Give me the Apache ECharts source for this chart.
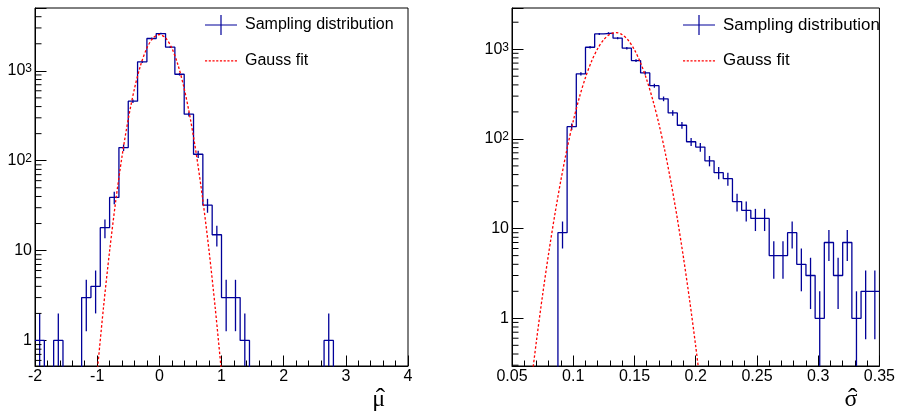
<!DOCTYPE html>
<html>
<head>
<meta charset="utf-8">
<title>Sampling distributions</title>
<script src="https://cdn.jsdelivr.net/npm/echarts@6/dist/echarts.min.js"></script>
<style>
  html, body { margin: 0; padding: 0; background: #fff; }
  #chart { width: 898px; height: 416px; }
</style>
</head>
<body>
<div id="chart"></div>
<script>
// left pad: mu-hat, 40 bins of 0.15 on [-2, 4]
const muRange = [-2, 4];
const muBinWidth = 0.15;
const muCounts = [
  1, 0, 1, 0, 0, 3, 4, 18, 39, 140,
  459, 1259, 2290, 2600, 1833, 916, 329, 118, 32, 15,
  3, 3, 1, 0, 0, 0, 0, 0, 0, 0,
  0, 1, 0, 0, 0, 0, 0, 0, 0, 0
];
const muFitX = [-1.0, -0.9, -0.8, -0.7, -0.6, -0.5, -0.4, -0.3, -0.2, -0.1, 0,
  0.1, 0.2, 0.3, 0.4, 0.5, 0.6, 0.7, 0.8, 0.9, 1.0];
const muFitY = [0.44, 2.27, 9.9, 36.3, 112, 290, 634, 1162, 1792, 2324, 2535,
  2324, 1792, 1162, 634, 290, 112, 36.3, 9.9, 2.27, 0.44];

// right pad: sigma-hat, 40 bins of 0.0075 on [0.05, 0.35]
const sigmaRange = [0.05, 0.35];
const sigmaBinWidth = 0.0075;
const sigmaCounts = [
  0, 0, 0, 0, 0, 9, 137, 531, 1052, 1482,
  1508, 1327, 1026, 747, 544, 392, 280, 195, 142, 93,
  81, 57, 42, 36, 20, 16, 13, 13, 5, 5,
  9, 4, 3, 1, 7, 3, 7, 1, 2, 2
];
const sigmaFitX = [0.06, 0.065, 0.07, 0.075, 0.08, 0.085, 0.09, 0.095, 0.1, 0.105,
  0.11, 0.115, 0.12, 0.125, 0.13, 0.135, 0.14, 0.145, 0.15, 0.155,
  0.16, 0.165, 0.17, 0.175, 0.18, 0.185, 0.19, 0.195, 0.2, 0.205];
const sigmaFitY = [0.041, 0.159, 0.565, 1.83, 5.38, 14.4, 35.2, 78.2, 158, 290,
  484, 736, 1019, 1282, 1469, 1531, 1452, 1253, 984, 703,
  457, 270, 146, 71.3, 31.8, 12.9, 4.75, 1.6, 0.488, 0.136];

const muYRange = [0.52, 5000];
const sigmaYRange = [0.294, 2880];

const BLUE = '#000099';
const RED = '#ff0000';
const FONT = 'Liberation Sans';
const SERIF = 'Liberation Serif';
const LOG_FLOOR = 1e-3; // empty bins fall below the frame and get clipped

// legend icons, 32 x 20 boxes
const ICON_CROSS = 'path://M0,9.4H32V10.6H0ZM15.4,0H16.6V20H15.4Z';
let dashPath = 'path://M0,0h0.01v0.01h-0.01ZM0,20h0.01v-0.01h-0.01Z';
for (let x = 0; x < 32; x += 3.8) dashPath += 'M' + x + ',9.4h2.2v1.2h-2.2Z';
const ICON_DASH = dashPath;

function stepData(range, width, counts) {
  const pts = counts.map((c, i) => [range[0] + i * width, c > 0 ? c : LOG_FLOOR]);
  const last = counts[counts.length - 1];
  pts.push([range[1], last > 0 ? last : LOG_FLOOR]);
  return pts;
}

function errorBars(idx, range, width, counts) {
  const data = [];
  counts.forEach((c, i) => {
    if (c > 0) data.push([range[0] + (i + 0.5) * width, c]);
  });
  return {
    type: 'custom', name: 'Sampling distribution',
    xAxisIndex: idx, yAxisIndex: idx, clip: true, silent: true,
    itemStyle: { color: BLUE },
    renderItem(params, api) {
      const x = api.value(0), n = api.value(1), e = Math.sqrt(n);
      const bottom = params.coordSys.y + params.coordSys.height;
      const top = api.coord([x, n + e]);
      const low = n - e > 0 ? Math.min(api.coord([x, n - e])[1], bottom) : bottom;
      return {
        type: 'line',
        shape: { x1: top[0], y1: top[1], x2: top[0], y2: low },
        style: { stroke: BLUE, lineWidth: 1.3 }
      };
    },
    data
  };
}

// ROOT-style minor ticks at 2..9 x 10^k on the log axis
function minorTicks(idx, xMin, yRange) {
  const data = [];
  const p0 = Math.floor(Math.log10(yRange[0]));
  const p1 = Math.ceil(Math.log10(yRange[1]));
  for (let p = p0; p <= p1; p++) {
    for (let m = 2; m <= 9; m++) {
      const v = m * Math.pow(10, p);
      if (v > yRange[0] && v < yRange[1]) data.push([xMin, v]);
    }
  }
  return {
    type: 'custom', name: 'minor', xAxisIndex: idx, yAxisIndex: idx,
    clip: false, silent: true,
    renderItem(params, api) {
      const p = api.coord([api.value(0), api.value(1)]);
      return {
        type: 'line',
        shape: { x1: p[0], y1: p[1], x2: p[0] + 6.5, y2: p[1] },
        style: { stroke: '#000', lineWidth: 1 }
      };
    },
    data
  };
}

function xAxisOpt(idx, range, interval, symbol, gap) {
  return {
    type: 'value', gridIndex: idx, min: range[0], max: range[1], interval: interval,
    axisLine: { onZero: false, lineStyle: { color: '#000', width: 1 } },
    axisTick: { inside: true, length: 10.5, lineStyle: { color: '#000' } },
    minorTick: { show: true, splitNumber: 5, length: 5.5, lineStyle: { color: '#000' } },
    splitLine: { show: false },
    axisLabel: { color: '#000', fontSize: 16, fontFamily: FONT, margin: 3 },
    // letter with a hat drawn on top of it
    name: '{s|' + symbol + '}{h|ˆ}', nameLocation: 'end', nameGap: gap,
    nameTextStyle: {
      align: 'right', verticalAlign: 'top', padding: [22, 0, 0, 0],
      rich: {
        s: { fontSize: 24, fontFamily: SERIF, color: '#000', lineHeight: 24 },
        h: { fontSize: 28, fontFamily: SERIF, color: '#000', lineHeight: 24, width: 0, align: 'right' }
      }
    }
  };
}

function yAxisOpt(idx, range) {
  return {
    type: 'log', logBase: 10, gridIndex: idx, min: range[0], max: range[1],
    axisLine: { onZero: false, lineStyle: { color: '#000', width: 1 } },
    axisTick: { inside: true, length: 11.5, lineStyle: { color: '#000' } },
    splitLine: { show: false },
    axisLabel: {
      color: '#000', fontSize: 16, fontFamily: FONT, margin: 3, interval: 0,
      formatter(v) {
        const l = Math.log10(v), p = Math.round(l);
        if (Math.abs(l - p) > 1e-6) return '';
        if (p === 0) return '1';
        if (p === 1) return '10';
        return '10{sup|' + p + '}';
      },
      rich: { sup: { fontSize: 12, fontFamily: FONT, color: '#000', verticalAlign: 'top' } }
    }
  };
}

function legendOpt(left, fontSize) {
  return {
    left: left, top: 15, orient: 'vertical', padding: 0,
    itemWidth: 32, itemHeight: 20, itemGap: 16, selectedMode: false,
    textStyle: { color: '#000', fontSize: fontSize, fontFamily: FONT, padding: [0, 0, 0, 3] },
    data: [
      { name: 'Sampling distribution', icon: ICON_CROSS, itemStyle: { color: BLUE, borderWidth: 0 } },
      { name: 'Gauss fit', icon: ICON_DASH, itemStyle: { color: RED, borderWidth: 0 } }
    ]
  };
}

function histSeries(idx, range, width, counts) {
  return {
    type: 'line', name: 'Sampling distribution', xAxisIndex: idx, yAxisIndex: idx,
    step: 'end', symbol: 'none', clip: true, silent: true,
    itemStyle: { color: BLUE },
    lineStyle: { color: BLUE, width: 1.3 },
    data: stepData(range, width, counts)
  };
}

function fitSeries(idx, xs, ys) {
  return {
    type: 'line', name: 'Gauss fit', xAxisIndex: idx, yAxisIndex: idx,
    symbol: 'none', smooth: 0.3, clip: true, silent: true,
    itemStyle: { color: RED },
    lineStyle: { color: RED, width: 1.3, type: [2.5, 2] },
    data: xs.map((x, i) => [x, ys[i]])
  };
}

const chart = echarts.init(document.getElementById('chart'), null, { renderer: 'canvas' });
chart.setOption({
  animation: false,
  backgroundColor: '#fff',
  grid: [
    { left: 35, right: 490, top: 8, bottom: 50, show: true, borderColor: '#000', borderWidth: 1 },
    { left: 512, right: 13, top: 8, bottom: 50, show: true, borderColor: '#000', borderWidth: 1 }
  ],
  legend: [legendOpt(205, 16), legendOpt(683, 16.9)],
  xAxis: [
    xAxisOpt(0, muRange, 1, 'μ', -23),
    xAxisOpt(1, sigmaRange, 0.05, 'σ', -22)
  ],
  yAxis: [yAxisOpt(0, muYRange), yAxisOpt(1, sigmaYRange)],
  series: [
    histSeries(0, muRange, muBinWidth, muCounts),
    errorBars(0, muRange, muBinWidth, muCounts),
    fitSeries(0, muFitX, muFitY),
    minorTicks(0, muRange[0], muYRange),
    histSeries(1, sigmaRange, sigmaBinWidth, sigmaCounts),
    errorBars(1, sigmaRange, sigmaBinWidth, sigmaCounts),
    fitSeries(1, sigmaFitX, sigmaFitY),
    minorTicks(1, sigmaRange[0], sigmaYRange)
  ]
});
</script>
</body>
</html>
